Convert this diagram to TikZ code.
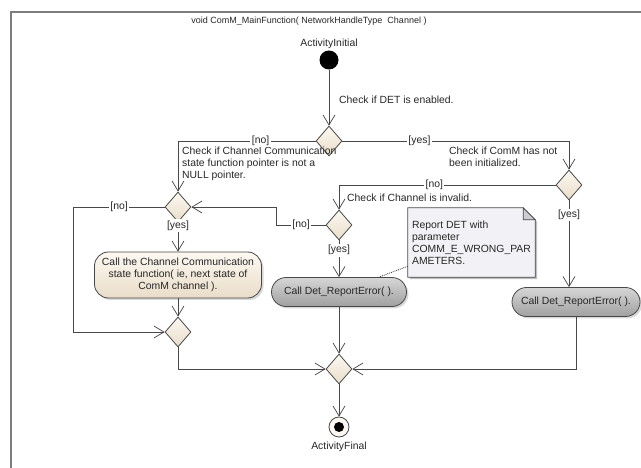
\documentclass[tikz,border=0pt]{standalone}
\usepackage{fontspec}
\setmainfont{Liberation Sans}
\usetikzlibrary{positioning, arrows.meta, shapes.geometric, shadows}
\pgfdeclarelayer{bg}
\pgfsetlayers{bg,main}
\definecolor{linegray}{RGB}{72,72,72}
\definecolor{framegray}{RGB}{125,125,125}
\definecolor{beigetop}{RGB}{252,248,241}
\definecolor{beigebot}{RGB}{233,221,201}
\definecolor{greytop}{RGB}{214,214,214}
\definecolor{greybot}{RGB}{160,160,160}
\definecolor{notefill}{RGB}{242,242,246}
\definecolor{foldfill}{RGB}{205,205,212}
\tikzset{
  node distance=4pt,
  title/.style={
      font=\fontsize{9}{11}\selectfont,
      text=black!85
    },
  txt/.style={
      font=\fontsize{10.4}{12}\selectfont,
      text=black!85,
      inner sep=1pt
    },
  cond/.style={
      txt,
      align=left,
      inner sep=0pt
    },
  guard/.style={
      txt,
      fill=white,
      inner sep=1.5pt
    },
  init/.style={
      circle,
      fill=black,
      minimum size=19pt,
      inner sep=0pt
    },
  final/.style={
      circle,
      draw=linegray,
      line width=0.8pt,
      fill=beigetop,
      minimum size=20pt,
      inner sep=0pt,
      path picture={\fill[black] (path picture bounding box.center) circle[radius=5pt];}
    },
  dec/.style={
      diamond,
      draw=linegray,
      line width=0.8pt,
      top color=beigetop,
      bottom color=beigebot,
      minimum width=26pt,
      minimum height=30pt,
      inner sep=0pt
    },
  act/.style={
      txt,
      rectangle,
      rounded corners=14pt,
      draw=linegray,
      line width=0.8pt,
      top color=beigetop,
      bottom color=beigebot,
      drop shadow={shadow xshift=2pt, shadow yshift=-2pt, fill=black!30},
      align=center,
      minimum width=167pt,
      minimum height=46pt
    },
  err/.style={
      txt,
      rectangle,
      rounded corners=14.5pt,
      draw=linegray,
      line width=0.8pt,
      top color=greytop,
      bottom color=greybot,
      drop shadow={shadow xshift=2pt, shadow yshift=-2pt, fill=black!30},
      minimum height=29pt
    },
  note/.style={
      txt,
      rectangle,
      align=left,
      minimum width=127pt,
      minimum height=69pt
    },
  notebox/.style={
      fill=notefill,
      draw=linegray,
      line width=0.7pt
    },
  notelink/.style={
      densely dotted,
      draw=linegray,
      line width=0.9pt
    },
  frame/.style={
      draw=framegray,
      line width=1.2pt
    },
  arr/.style={
      -{Straight Barb[length=10pt,width=12pt]},
      draw=linegray,
      line width=0.7pt
    }
}

\begin{document}
\begin{tikzpicture}[x=1pt, y=-1pt]
  \useasboundingbox (0,0) rectangle (641,468);
  \draw[frame] (11,470) -- (11,12) -- (643,12);
  \node[title] (ttl) at (309,21) {void ComM\_MainFunction( NetworkHandleType~ Channel )};

  \node[init] (start) at (329,60) {};
  \node[txt, above=0pt of start] (startlbl) {ActivityInitial};
  \node[dec] (dec1) at (329,141) {};
  \node[dec] (dec2) at (178,207) {};
  \node[dec] (dec4) at (569,185) {};
  \node[dec] (dec3) at (339,225) {};
  \node[act] (act1) at (178,275) {Call the Channel Communication\\state function( ie, next state of\\ComM channel ).};
  \node[dec] (mrg1) at (178,332) {};
  \node[err, minimum width=135pt] (err1) at (339,292) {Call Det\_ReportError( ).};
  \node[err, minimum width=128pt] (err2) at (576,302) {Call Det\_ReportError( ).};
  \node[dec] (mrg2) at (339,369) {};
  \node[final] (stop) at (339,427) {};
  \node[txt, below=3pt of stop] (stoplbl) {ActivityFinal};

  \node[cond, anchor=west] (c1) at (339,100) {Check if DET is enabled.};
  \node[cond, anchor=north west] (c2) at (182,147) {Check if Channel Communication\\state function pointer is not a\\NULL pointer.};
  \node[cond, anchor=north west] (c4) at (449,147) {Check if ComM has not\\been initialized.};
  \node[cond, anchor=west] (c3) at (347,198) {Check if Channel is invalid.};

  \node[note] (note) at (471.5,242.5) {Report DET with\\parameter\\COMM\_E\_WRONG\_PAR\\AMETERS.};
  \begin{pgfonlayer}{bg}
    \fill[black!25] ([shift={(2pt,-2pt)}]note.north west) -- ([shift={(-10pt,-2pt)}]note.north east) -- ([shift={(2pt,-14pt)}]note.north east) -- ([shift={(2pt,-2pt)}]note.south east) -- ([shift={(2pt,-2pt)}]note.south west) -- cycle;
    \filldraw[notebox] (note.north west) -- ([xshift=-12pt]note.north east) -- ([yshift=-12pt]note.north east) -- (note.south east) -- (note.south west) -- cycle;
    \filldraw[notebox, fill=foldfill] ([xshift=-12pt]note.north east) -- ([xshift=-12pt, yshift=-12pt]note.north east) -- ([yshift=-12pt]note.north east) -- cycle;
  \end{pgfonlayer}
  \draw[notelink] (note) -- (err1);

  \draw[arr] (start) -- (dec1);
  \draw[arr] (dec1.west) -| node[guard, pos=0.2] (g1) {[no]} (dec2.north);
  \draw[arr] (dec1.east) -| node[guard, pos=0.17] (g2) {[yes]} (dec4.north);
  \draw[arr] (dec4.west) -| node[guard, pos=0.28] (g3) {[no]} (dec3.north);
  \draw[arr] (dec4.south) -- node[guard, pos=0.17] (g4) {[yes]} (dec4.south |- err2.north);
  \draw[arr] (dec3.west) -- node[guard] (g5) {[no]} ++(-49,0) |- (dec2.east);
  \draw[arr] (dec3.south) -- node[guard, pos=0.27] (g6) {[yes]} (err1);
  \draw[arr] (dec2.west) -- node[guard] (g7) {[no]} ++(-91,0) |- (mrg1.west);
  \draw[arr] (dec2.south) -- node[guard, pos=0.1] (g8) {[yes]} (act1);
  \draw[arr] (act1) -- (mrg1);
  \draw[arr] (mrg1.south) |- (mrg2.west);
  \draw[arr] (err1) -- (mrg2);
  \draw[arr] (err2.south) |- (mrg2.east);
  \draw[arr] (mrg2) -- (stop);
\end{tikzpicture}
\end{document}
